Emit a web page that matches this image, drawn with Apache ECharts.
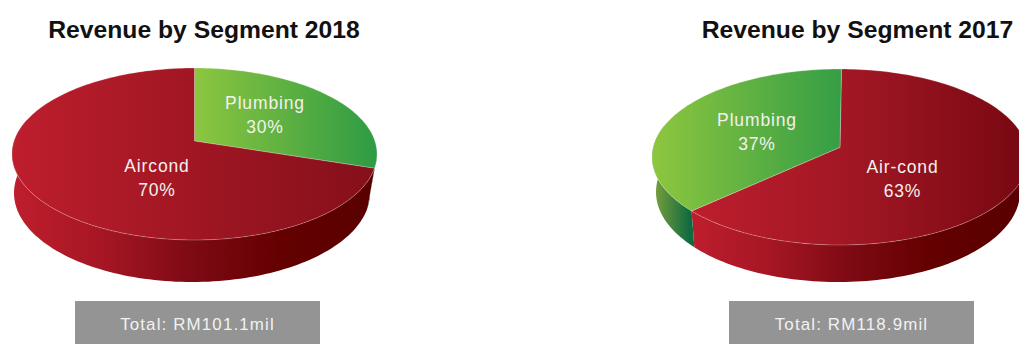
<!DOCTYPE html>
<html>
<head>
<meta charset="utf-8">
<style>
  html, body { margin: 0; padding: 0; background: #fff; }
  #chart { width: 1019px; height: 344px; overflow: hidden; }
  /* Slice labels and totals are set with open tracking, the titles are not */
  #chart text { letter-spacing: 0.85px; }
  #chart text[style*="bold"] { letter-spacing: 0; }
  #chart text[style*="16.9px"] { letter-spacing: 1.15px; }
</style>
<script src="https://cdn.jsdelivr.net/npm/echarts@6/dist/echarts.min.js"></script>
</head>
<body>
<div id="chart"></div>
<script>
// Segment shares in percent
const segments2018 = ['Plumbing', 'Aircond'];
const shares2018 = [30, 70];
const segments2017 = ['Air-cond', 'Plumbing'];
const shares2017 = [63, 37];

const titles = ['Revenue by Segment 2018', 'Revenue by Segment 2017'];
const totals = ['Total: RM101.1mil', 'Total: RM118.9mil'];

// Tilted-disc geometry: the rim is an ellipse, and k shifts the hub away from
// its centre to give the perspective of a disc seen from above.
const layout2018 = {
  top: { cx: 194.5, cy: 154, rx: 182.5, ry: 86, k: 0.151 },
  base: { cx: 192, cy: 193, rx: 178, ry: 89, k: 0.151 },
  startDeg: 0,
  titleX: 199, boxX: 75,
  labels: [[265, 115], [157, 178]],
  faces: [
    { x0: 194, x1: 377, stops: ['#8DC63F', '#2E9B44'] },
    { x0: 12, x1: 377, stops: ['#BE1E2D', '#A01623', '#84101A'] }
  ],
  walls: [
    { x0: 194, x1: 377, stops: ['#4d8a3a', '#0F6A40'] },
    { x0: 14, x1: 370, stops: ['#BE1E2D', '#A61624', '#7D0A14', '#640000', '#5A0000'] }
  ]
};
const layout2017 = {
  top: { cx: 840, cy: 157, rx: 188, ry: 88, k: 0.11 },
  base: { cx: 838, cy: 192, rx: 182, ry: 90, k: 0.11 },
  startDeg: 0.5,
  titleX: 852.5, boxX: 729,
  labels: [[902.5, 179], [757, 131.5]],
  faces: [
    { x0: 691, x1: 1029, stops: ['#BE1E2D', '#A01623', '#760812'] },
    { x0: 653, x1: 841, stops: ['#8DC63F', '#359E45'] }
  ],
  walls: [
    { x0: 690, x1: 1010, stops: ['#BE1E2D', '#A61624', '#7D0A14', '#640000', '#5A0000'] },
    { x0: 654, x1: 690, stops: ['#7A9F3C', '#0F6A40'] }
  ]
};

// Only the part of the rim facing the viewer shows a wall
const FRONT_FROM = 100;
const FRONT_TO = 285;
const RAD = Math.PI / 180;

function project(e, deg) {
  const X = Math.sin(deg * RAD);
  const Y = Math.cos(deg * RAD);
  const d = 1 + e.k * Y;
  const hubY = e.cy - e.ry * e.k;
  return [
    e.cx + e.rx * Math.sqrt(1 - e.k * e.k) * X / d,
    hubY - e.ry * (1 - e.k * e.k) * Y / d
  ];
}

function arc(e, from, to) {
  const n = Math.max(2, Math.ceil(Math.abs(to - from) / 1.5));
  const pts = [];
  for (let i = 0; i <= n; i++) pts.push(project(e, from + (to - from) * i / n));
  return pts;
}

function gradient(g) {
  const n = g.stops.length - 1;
  return new echarts.graphic.LinearGradient(g.x0, 0, g.x1, 0,
    g.stops.map((c, i) => ({ offset: i / n, color: c })), true);
}

function sliceRange(values, idx, startDeg) {
  const sum = values.reduce((a, b) => a + b, 0);
  let acc = 0;
  for (let i = 0; i < idx; i++) acc += values[i];
  return [startDeg + acc / sum * 360, startDeg + (acc + values[idx]) / sum * 360];
}

function wallSeries(names, values, cfg) {
  return {
    type: 'custom', coordinateSystem: 'none', z: 1, silent: true, animation: false,
    data: values.map((v, i) => ({ name: names[i], value: [v] })),
    renderItem(params) {
      const [a, b] = sliceRange(values, params.dataIndex, cfg.startDeg);
      const from = Math.max(a, FRONT_FROM);
      const to = Math.min(b, FRONT_TO);
      if (to <= from) return { type: 'group', children: [] };
      return {
        type: 'polygon',
        shape: { points: arc(cfg.top, from, to).concat(arc(cfg.base, to, from)) },
        style: { fill: gradient(cfg.walls[params.dataIndex]), stroke: null }
      };
    }
  };
}

function faceSeries(names, values, cfg) {
  return {
    type: 'custom', coordinateSystem: 'none', z: 2, silent: true, animation: false,
    data: values.map((v, i) => ({ name: names[i], value: [v] })),
    renderItem(params) {
      const i = params.dataIndex;
      const [a, b] = sliceRange(values, i, cfg.startDeg);
      const hub = [cfg.top.cx, cfg.top.cy - cfg.top.ry * cfg.top.k];
      return {
        type: 'polygon',
        shape: { points: [hub].concat(arc(cfg.top, a, b)) },
        style: {
          fill: gradient(cfg.faces[i]),
          stroke: 'rgba(255,255,255,0.35)',
          lineWidth: 0.7
        }
      };
    }
  };
}

function labelSeries(names, values, cfg) {
  return {
    type: 'custom', coordinateSystem: 'none', z: 3, silent: true, animation: false,
    data: values.map((v, i) => ({ name: names[i], value: [v] })),
    renderItem(params) {
      const i = params.dataIndex;
      const [x, y] = cfg.labels[i];
      return {
        type: 'text',
        style: {
          text: names[i] + '\n' + values[i] + '%',
          x, y,
          fill: '#F4F1EE',
          font: '17.5px "Liberation Sans", Arial, sans-serif',
          lineHeight: 24,
          align: 'center',
          verticalAlign: 'middle'
        }
      };
    }
  };
}

function boxElements(cfg, text) {
  return [
    { type: 'rect', z: 5, shape: { x: cfg.boxX, y: 301, width: 245, height: 43 },
      style: { fill: '#949494' } },
    { type: 'text', z: 6, style: {
        text, x: cfg.boxX + 122.5, y: 324.5, fill: '#F2F2F2',
        font: '16.9px "Liberation Sans", Arial, sans-serif',
        align: 'center', verticalAlign: 'middle' } }
  ];
}

const chart = echarts.init(document.getElementById('chart'), null, { renderer: 'svg', width: 1019, height: 344 });

chart.setOption({
  animation: false,
  backgroundColor: '#fff',
  title: [layout2018, layout2017].map((cfg, i) => ({
    text: titles[i],
    left: cfg.titleX,
    top: 12,
    textAlign: 'center',
    textStyle: {
      color: '#111',
      fontSize: 24.7,
      fontWeight: 'bold',
      fontFamily: '"Liberation Sans", Arial, sans-serif'
    }
  })),
  graphic: { elements: boxElements(layout2018, totals[0]).concat(boxElements(layout2017, totals[1])) },
  series: [
    wallSeries(segments2018, shares2018, layout2018),
    faceSeries(segments2018, shares2018, layout2018),
    labelSeries(segments2018, shares2018, layout2018),
    wallSeries(segments2017, shares2017, layout2017),
    faceSeries(segments2017, shares2017, layout2017),
    labelSeries(segments2017, shares2017, layout2017)
  ]
});
</script>
</body>
</html>
